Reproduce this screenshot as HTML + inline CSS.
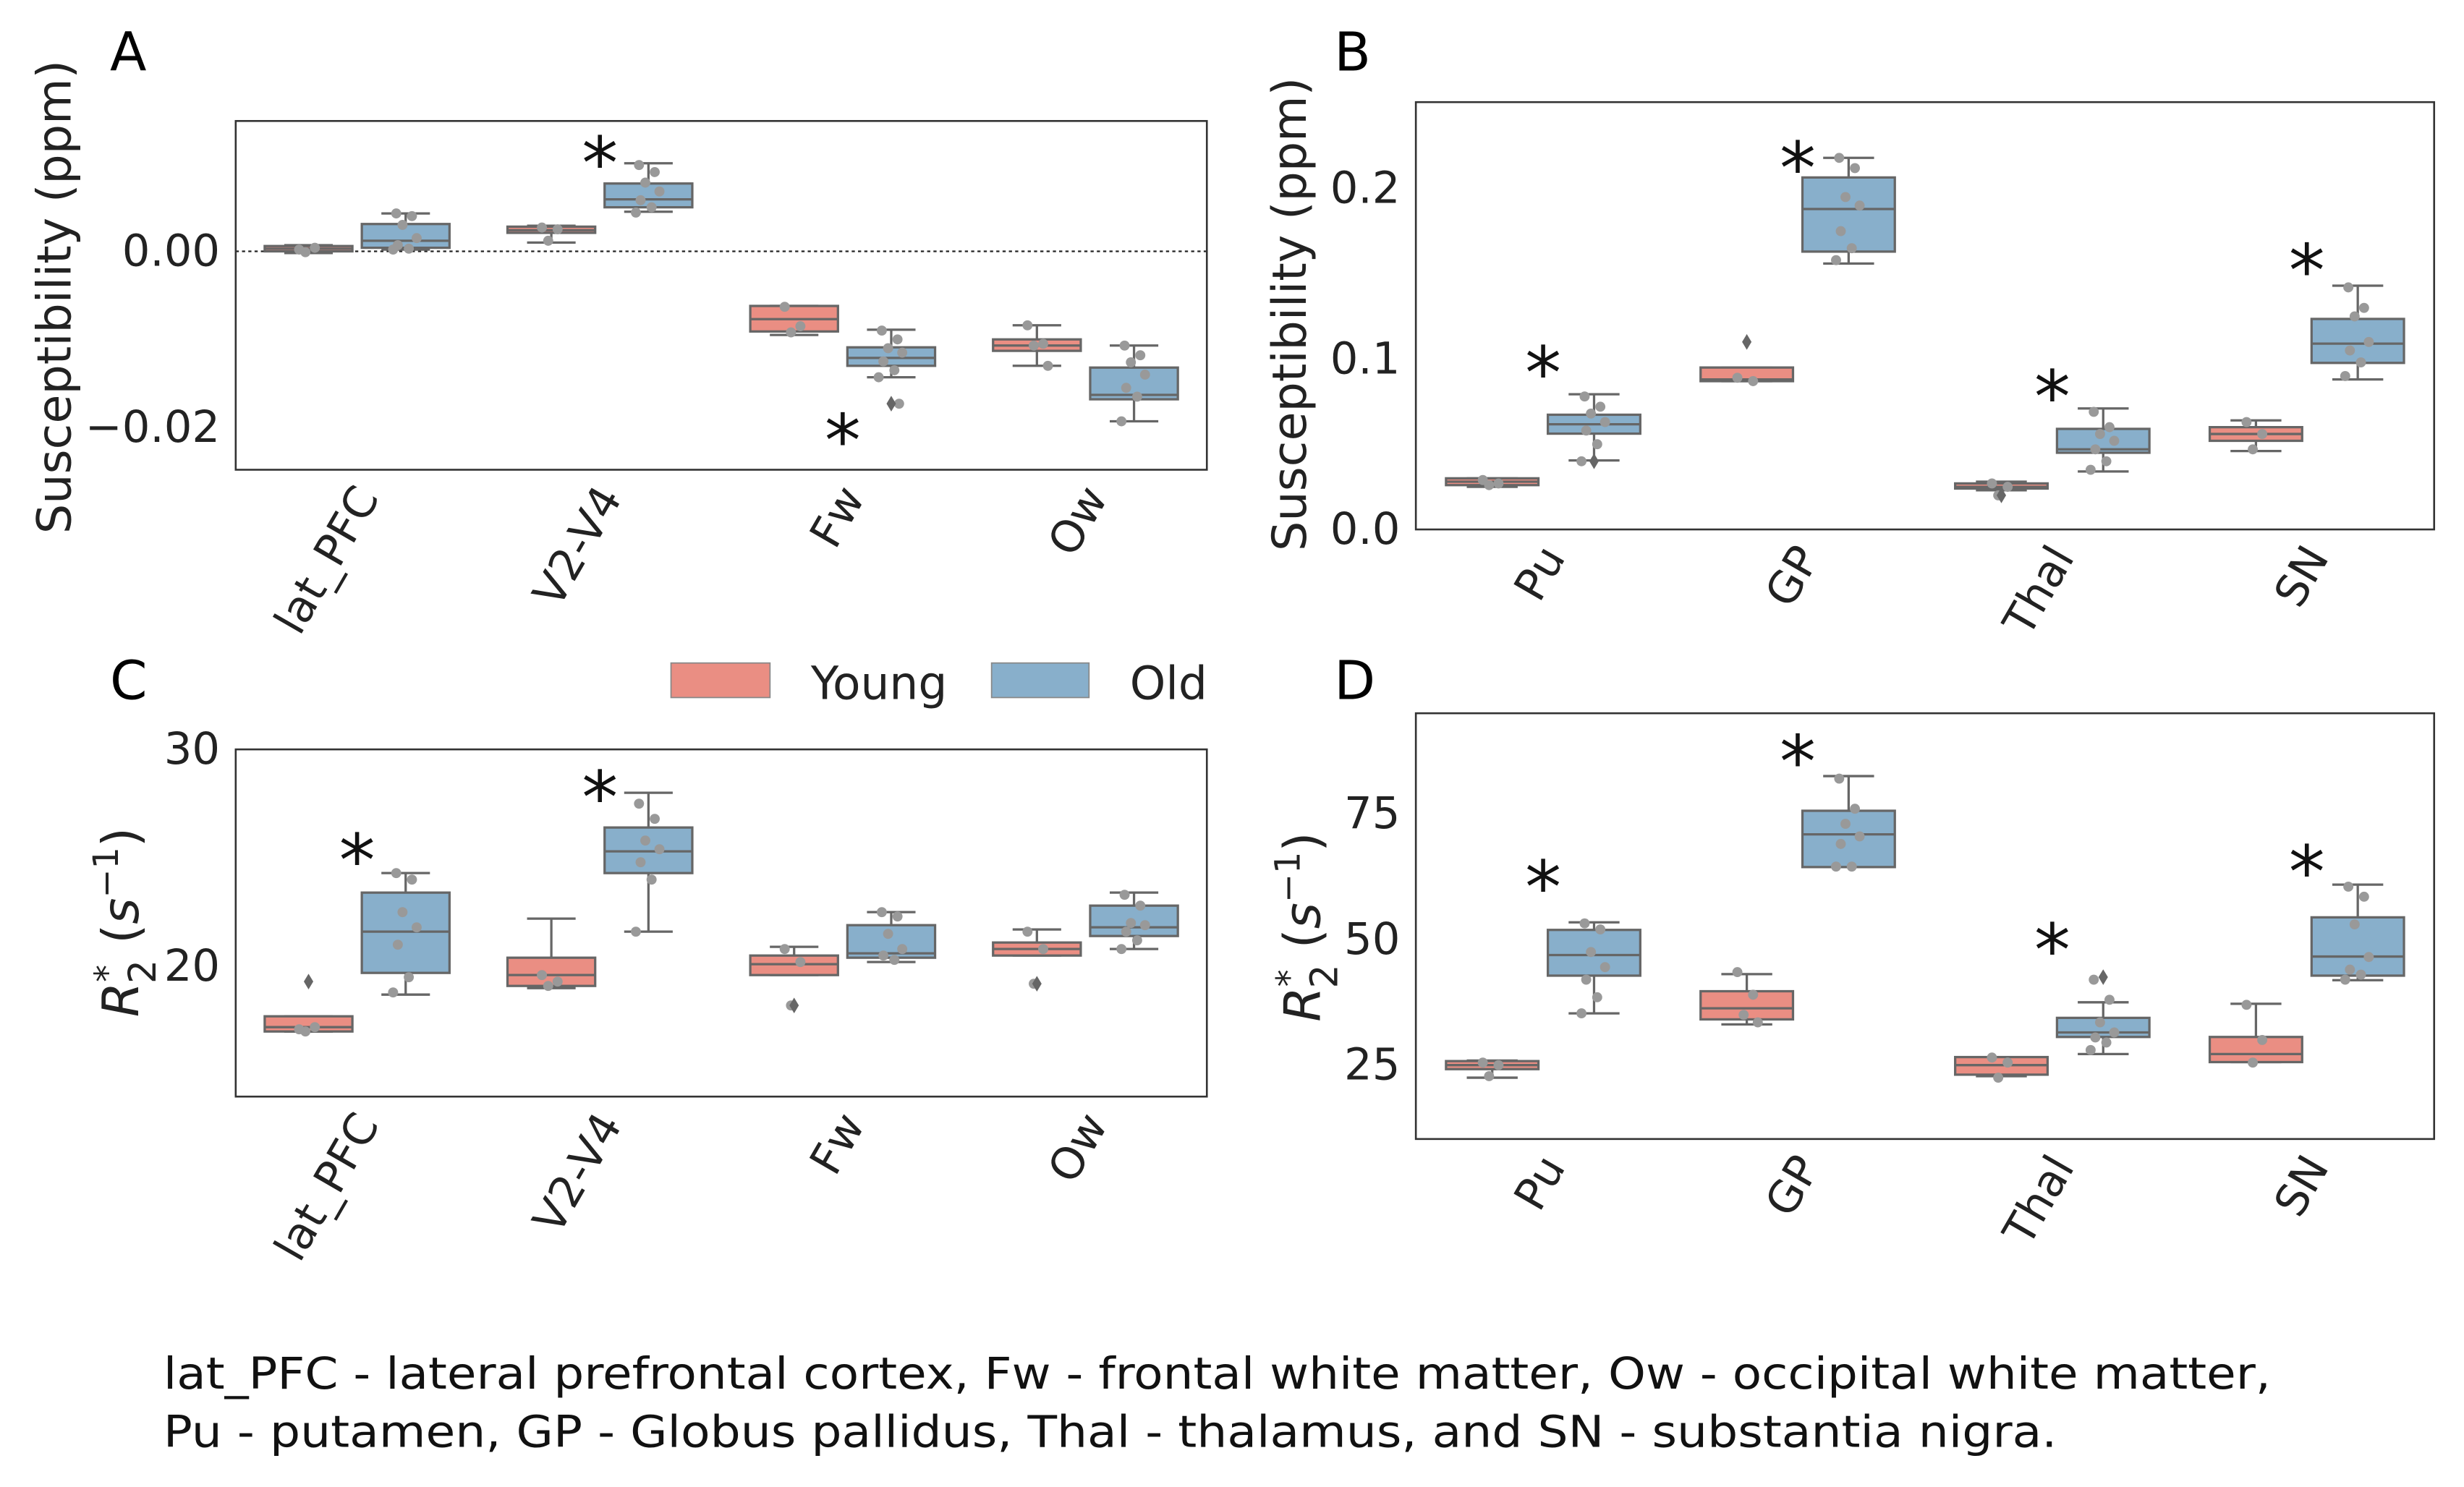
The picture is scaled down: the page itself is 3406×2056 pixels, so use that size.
<!DOCTYPE html>
<html><head><meta charset="utf-8"><style>
html,body{margin:0;padding:0;background:#fff}
svg{display:block;font-family:"DejaVu Sans","Liberation Sans",sans-serif}
</style></head><body>
<svg id="fig" width="3406" height="2056" viewBox="0 0 1568 946.5" xmlns="http://www.w3.org/2000/svg">
<rect width="1568" height="946.5" fill="#fff"/>
<text x="70" y="45" font-size="34">A</text>
<text x="849" y="45" font-size="34">B</text>
<text x="70" y="445" font-size="34">C</text>
<text x="849" y="445" font-size="34">D</text>
<g>
<rect x="427" y="422" width="63" height="22" fill="#ea8e83" stroke="#888" stroke-width="0.8"/>
<text x="516" y="445" font-size="29" fill="#222">Young</text>
<rect x="631" y="422" width="62" height="22" fill="#88afcb" stroke="#888" stroke-width="0.8"/>
<text x="719" y="445" font-size="29" fill="#222">Old</text>
</g>
<text x="104" y="884" font-size="28" fill="#111" textLength="1341" lengthAdjust="spacingAndGlyphs">lat_PFC - lateral prefrontal cortex, Fw - frontal white matter, Ow - occipital white matter,</text>
<text x="104" y="921" font-size="28" fill="#111" textLength="1205" lengthAdjust="spacingAndGlyphs">Pu - putamen, GP - Globus pallidus, Thal - thalamus, and SN - substantia nigra.</text>
</svg>
<script>
// ---- Panel A data (susceptibility, ppm) ----
const catsA = ["lat_PFC","V2-V4","Fw","Ow"];
const boxYoungA = [[-0.0002,0.0000,0.0003,0.0006,0.0007],[0.0010,0.0021,0.0024,0.0028,0.0029],[-0.0095,-0.0091,-0.0077,-0.0062,-0.0062],[-0.0130,-0.0113,-0.0107,-0.0100,-0.0084]];
const boxOldA = [[0.0002,0.0004,0.0012,0.0031,0.0043],[0.0045,0.0050,0.0059,0.0077,0.0100],[-0.0143,-0.0130,-0.0121,-0.0109,-0.0089],[-0.0193,-0.0168,-0.0163,-0.0132,-0.0107]];
const ptsYoungA = [[0.0002,0.0004,-0.0001],[0.0027,0.0025,0.0012],[-0.0063,-0.0085,-0.0092],[-0.0084,-0.0105,-0.0107,-0.0130]];
const ptsOldA = [[0.0043,0.0040,0.0030,0.0015,0.0007,0.0003,0.0002],[0.0098,0.0090,0.0078,0.0068,0.0058,0.0050,0.0044],[-0.0090,-0.0100,-0.0110,-0.0115,-0.0125,-0.0135,-0.0143,-0.0173],[-0.0107,-0.0118,-0.0126,-0.0140,-0.0155,-0.0165,-0.0193]];
const outYoungA = [[],[],[],[]];
const outOldA = [[],[],[-0.0173],[]];
const starsA = [null,0.0118,-0.0197,null];
const ticksA = [0.00,-0.02];
const tickLabelsA = ["0.00","\u22120.02"];
// ---- Panel B data ----
const catsB = ["Pu","GP","Thal","SN"];
const boxYoungB = [[0.025,0.026,0.028,0.030,0.030],[0.087,0.087,0.088,0.095,0.095],[0.023,0.024,0.025,0.027,0.028],[0.046,0.052,0.056,0.060,0.064]];
const boxOldB = [[0.0405,0.0562,0.0617,0.0673,0.0793],[0.156,0.163,0.188,0.2065,0.218],[0.034,0.045,0.047,0.059,0.071],[0.088,0.0977,0.109,0.1235,0.143]];
const ptsYoungB = [[0.029,0.027,0.026],[0.089,0.087],[0.027,0.025,0.020],[0.063,0.056,0.047]];
const ptsOldB = [[0.078,0.072,0.068,0.063,0.058,0.050,0.040],[0.218,0.212,0.195,0.190,0.175,0.165,0.158],[0.069,0.060,0.056,0.052,0.047,0.040,0.035],[0.142,0.130,0.125,0.110,0.105,0.098,0.090]];
const outYoungB = [[],[0.110],[0.020],[]];
const outOldB = [[0.040],[],[],[]];
const starsB = [0.101,0.221,0.087,0.161];
const ticksB = [0.0,0.1,0.2];
const tickLabelsB = ["0.0","0.1","0.2"];
// ---- Panel C data (R2*) ----
const catsC = ["lat_PFC","V2-V4","Fw","Ow"];
const boxYoungC = [[17.0,17.0,17.2,17.7,17.7],[19.0,19.1,19.6,20.4,22.2],[19.6,19.6,20.1,20.5,20.9],[20.5,20.5,20.8,21.1,21.7]];
const boxOldC = [[18.7,19.7,21.6,23.4,24.3],[21.6,24.3,25.3,26.4,28.0],[20.2,20.4,20.6,21.9,22.5],[20.8,21.4,21.8,22.8,23.4]];
const ptsYoungC = [[17.1,17.2,17.0],[19.6,19.3,19.1],[20.8,20.2,18.2],[21.6,20.8,19.2]];
const ptsOldC = [[24.3,24.0,22.5,21.8,21.0,19.5,18.8],[27.5,26.8,25.8,25.4,24.8,24.0,21.6],[22.5,22.3,21.5,20.8,20.5,20.3],[23.3,22.8,22.0,21.9,21.6,21.2,20.8]];
const outYoungC = [[19.3],[],[18.2],[19.2]];
const outOldC = [[],[],[],[]];
const starsC = [25.6,28.5,null,null];
const ticksC = [20,30];
const tickLabelsC = ["20","30"];
// ---- Panel D data (R2*) ----
const catsD = ["Pu","GP","Thal","SN"];
const boxYoungD = [[22.5,24.2,25.0,25.8,25.9],[33.1,34.1,36.3,39.7,43.1],[22.8,23.1,25.0,26.6,26.5],[25.6,25.6,27.2,30.6,37.2]];
const boxOldD = [[35.3,42.8,46.9,51.9,53.4],[64.4,64.4,70.9,75.6,82.5],[27.2,30.6,31.5,34.4,37.5],[41.9,42.8,46.6,54.4,60.9]];
const ptsYoungD = [[25.5,25.0,22.8],[43.5,39.0,35.0,33.5],[26.5,25.5,22.5],[37.0,30.0,25.5]];
const ptsOldD = [[53.2,52.0,47.5,44.5,42.0,38.5,35.3],[82.0,76.0,73.0,70.5,69.0,64.5,64.5],[42.0,38.0,33.5,31.5,30.5,29.5,28.0],[60.5,58.5,53.0,46.5,44.0,43.0,42.0]];
const outYoungD = [[],[],[],[]];
const outOldD = [[],[],[42.5],[]];
const starsD = [63.5,88.5,51.0,66.5];
const ticksD = [25,50,75];
const tickLabelsD = ["25","50","75"];

const NS = "http://www.w3.org/2000/svg";
const svg = document.getElementById("fig");
function mk(tag, attrs, parent){const e=document.createElementNS(NS,tag);for(const k in attrs)e.setAttribute(k,attrs[k]);(parent||svg).appendChild(e);return e;}
const jit = [-6,4,-2,7,-5,2,-8,5,0];

function panel(id, box, dmin, dmax, cats, bY, bO, pY, pO, oY, oO, stars, ticks, tlabels, zeroLine, ylabel){
  const [x0,y0,x1,y1] = box;
  const g = mk("g",{});
  
  
  const ys = v => y1 - (v-dmin)/(dmax-dmin)*(y1-y0);
  const bandW = (x1-x0)/cats.length;
  const xs = i => x0 + bandW*(i+0.5);
  if(zeroLine){const l=mk("line",{x1:x0,x2:x1,y1:ys(0),y2:ys(0),stroke:"#222","stroke-width":1,"stroke-dasharray":"2,2"},g);
    
    }
  const bw = bandW*0.8/2;
  const groups = [[bY,pY,oY,"#ea8e83",-1,"young"],[bO,pO,oO,"#88afcb",1,"old"]];
  cats.forEach((c,i)=>{
    groups.forEach(([B,P,O,col,side,nm])=>{
      const cx = xs(i) + side*bw/2;
      const [wl,q1,md,q3,wh] = B[i];
      const bg = mk("g",{},g);
      
      
      mk("line",{x1:cx,x2:cx,y1:ys(wh),y2:ys(q3),stroke:"#666","stroke-width":1.5},bg);
      mk("line",{x1:cx,x2:cx,y1:ys(q1),y2:ys(wl),stroke:"#666","stroke-width":1.5},bg);
      mk("line",{x1:cx-bw*0.25,x2:cx+bw*0.25,y1:ys(wh),y2:ys(wh),stroke:"#666","stroke-width":1.5},bg);
      mk("line",{x1:cx-bw*0.25,x2:cx+bw*0.25,y1:ys(wl),y2:ys(wl),stroke:"#666","stroke-width":1.5},bg);
      mk("rect",{x:cx-bw/2+3,y:ys(q3),width:bw-6,height:Math.max(1,ys(q1)-ys(q3)),fill:col,stroke:"#666","stroke-width":1.5},bg);
      mk("line",{x1:cx-bw/2+3,x2:cx+bw/2-3,y1:ys(md),y2:ys(md),stroke:"#666","stroke-width":1.5},bg);
      O[i].forEach(v=>{const d=mk("path",{d:`M${cx} ${ys(v)-5}L${cx+3} ${ys(v)}L${cx} ${ys(v)+5}L${cx-3} ${ys(v)}Z`,fill:"#666"},g);
        
        });
      P[i].forEach((v,k)=>{const p=mk("circle",{cx:cx+jit[k%jit.length],cy:ys(v),r:3.2,fill:"#999"},bg);
        
        });
    });
    if(stars[i]!==null){const s=mk("text",{x:xs(i),y:ys(stars[i])+26,"font-size":46,"text-anchor":"middle",fill:"#111"},g);s.textContent="*";
      
      }
    const t=mk("text",{transform:`translate(${xs(i)+8},${y1+14}) rotate(-60)`,"text-anchor":"end","dominant-baseline":"middle","font-size":28,fill:"#222"},g);
    t.textContent=c;
    
    
  });
  ticks.forEach((v,k)=>{const t=mk("text",{x:x0-10,y:ys(v),"text-anchor":"end","dominant-baseline":"central","font-size":28,fill:"#222"},g);
    t.textContent=tlabels[k];
    
    });
  const fr=mk("rect",{x:x0,y:y0,width:x1-x0,height:y1-y0,fill:"none",stroke:"#333","stroke-width":1.2},g);
  
  
  const yl = mk("text",{transform:`translate(${ylabel[0]},${ylabel[1]}) rotate(-90)`,"text-anchor":"middle","font-size":30,fill:"#222"},g);
  
  
  if(ylabel[2]==="r2"){
    yl.innerHTML='<tspan font-style="italic" font-size="32">R</tspan><tspan font-size="22" dy="-12">*</tspan><tspan font-size="24" dx="-12" dy="23">2</tspan><tspan font-size="32" dy="-11"> (</tspan><tspan font-style="italic" font-size="32">s</tspan><tspan font-size="22" dy="-13">−1</tspan><tspan font-size="32" dy="13">)</tspan>';
  } else yl.textContent="Susceptibility (ppm)";
}
panel("a",[150,77,768,299],-0.0248,0.0148,catsA,boxYoungA,boxOldA,ptsYoungA,ptsOldA,outYoungA,outOldA,starsA,ticksA,tickLabelsA,true,[45,189,"s"]);
panel("b",[901,65,1549,337],0,0.2507,catsB,boxYoungB,boxOldB,ptsYoungB,ptsOldB,outYoungB,outOldB,starsB,ticksB,tickLabelsB,false,[831,200,"s"]);
panel("c",[150,477,768,698],14,30,catsC,boxYoungC,boxOldC,ptsYoungC,ptsOldC,outYoungC,outOldC,starsC,ticksC,tickLabelsC,false,[88,587,"r2"]);
panel("d",[901,454,1549,725],10.3,95,catsD,boxYoungD,boxOldD,ptsYoungD,ptsOldD,outYoungD,outOldD,starsD,ticksD,tickLabelsD,false,[840,590,"r2"]);
</script>
</body></html>
